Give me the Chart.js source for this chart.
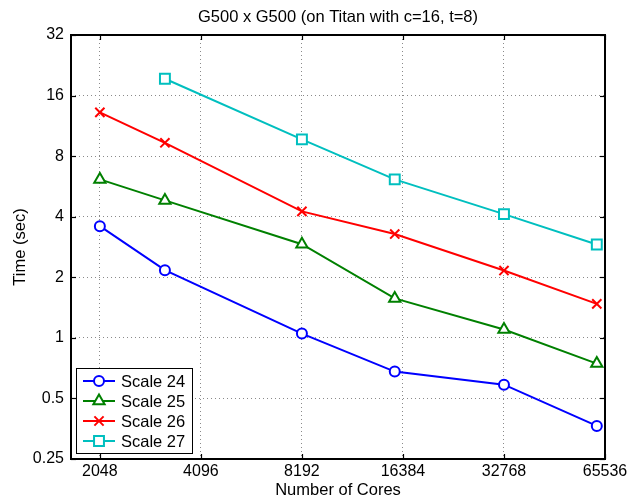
<!DOCTYPE html>
<html>
<head>
<meta charset="utf-8">
<script src="https://cdn.jsdelivr.net/npm/chart.js@4.4.1/dist/chart.umd.min.js"></script>
<style>
  html, body { margin: 0; padding: 0; background: #fff; }
  #wrap { width: 628px; height: 500px; position: relative; }
</style>
</head>
<body>
<div id="wrap"><canvas id="chart"></canvas></div>
<script>
// cores used in each run (x), times in seconds (y)
const cores  = [2048, 3200, 8192, 15488, 32768, 61952];
const xTicks = [2048, 4096, 8192, 16384, 32768, 65536];
const yTicks = [0.25, 0.5, 1, 2, 4, 8, 16, 32];

const scale24 = [3.59, 2.17, 1.05, 0.68, 0.585, 0.365];
const scale25 = [6.13, 4.82, 2.92, 1.57, 1.10, 0.745];
const scale26 = [13.2, 9.32, 4.25, 3.28, 2.16, 1.475];
const scale27 = [null, 19.4, 9.69, 6.13, 4.12, 2.91];

const names   = ['Scale 24', 'Scale 25', 'Scale 26', 'Scale 27'];
const colors  = ['#0000FF', '#008000', '#FF0000', '#00BFBF'];
const markers = ['circle', 'triangle', 'crossRot', 'rect'];
const radii   = [5, 6.5, 6.5, 7];

const FONT = "'Liberation Sans', Arial, Helvetica, sans-serif";
Chart.defaults.font.family = FONT;
Chart.defaults.color = '#000';

function pts(vals) {
    return cores.map((c, i) => ({ x: c, y: vals[i] })).filter(p => p.y !== null);
}

const series = [scale24, scale25, scale26, scale27];
const datasets = series.map((vals, i) => ({
    label: names[i],
    data: pts(vals),
    borderColor: colors[i],
    backgroundColor: '#ffffff',
    borderWidth: 2,
    pointStyle: markers[i],
    pointRadius: radii[i],
    pointBorderWidth: 2,
    pointBackgroundColor: '#ffffff',
    pointBorderColor: colors[i],
    tension: 0,
}));

// box, inward ticks and legend like the matlab figure
const matlabFrame = {
    id: 'matlabFrame',
    afterDraw(chart) {
        const { ctx, chartArea: a, scales: { x, y } } = chart;
        ctx.save();
        ctx.strokeStyle = '#000';
        ctx.lineWidth = 1.2;
        const seg = (x1, y1, x2, y2) => { ctx.beginPath(); ctx.moveTo(x1, y1); ctx.lineTo(x2, y2); ctx.stroke(); };
        xTicks.forEach(v => {
            const px = Math.round(x.getPixelForValue(v)) + 0.5;
            seg(px, a.bottom, px, a.bottom - 5);
            seg(px, a.top, px, a.top + 5);
        });
        yTicks.forEach(v => {
            const py = Math.round(y.getPixelForValue(v)) + 0.5;
            seg(a.left, py, a.left + 5, py);
            seg(a.right, py, a.right - 5, py);
        });
        ctx.lineWidth = 2;
        ctx.strokeRect(a.left, a.top, a.right - a.left, a.bottom - a.top);

        // legend
        const lx = 76, ly = 368, lw = 116, lh = 85;
        ctx.fillStyle = '#fff';
        ctx.fillRect(lx, ly, lw, lh);
        ctx.lineWidth = 1;
        ctx.strokeStyle = '#000';
        ctx.strokeRect(lx + 0.5, ly + 0.5, lw, lh);
        ctx.font = '16.5px ' + FONT;
        ctx.textBaseline = 'middle';
        ctx.textAlign = 'left';
        names.forEach((n, i) => {
            const ry = ly + 13 + i * 20;
            ctx.strokeStyle = colors[i];
            ctx.lineWidth = 2;
            seg(83, ry, 115, ry);
            ctx.fillStyle = '#fff';
            Chart.helpers.drawPoint(ctx, { pointStyle: markers[i], radius: radii[i], rotation: 0, borderWidth: 2 }, 99, ry);
            ctx.fillStyle = '#000';
            ctx.fillText(n, 121, ry + 1);
        });
        ctx.restore();
    }
};

new Chart(document.getElementById('chart'), {
    type: 'line',
    data: { datasets },
    plugins: [matlabFrame],
    options: {
        responsive: true,
        maintainAspectRatio: false,
        animation: false,
        layout: { padding: { left: 0, right: 23, top: 0, bottom: 0 } },
        plugins: {
            legend: { display: false },
            tooltip: { enabled: false },
            title: {
                display: true,
                fullSize: false,
                text: 'G500 x G500 (on Titan with c=16, t=8)',
                font: { size: 16.5, weight: 'normal' },
                color: '#000',
                padding: { top: 8, bottom: 7.2 },
            },
        },
        scales: {
            x: {
                type: 'logarithmic',
                min: 1680,
                max: 65536,
                afterBuildTicks: s => { s.ticks = xTicks.map(v => ({ value: v })); },
                afterFit: s => { s.height = 41; s.paddingLeft = 0; s.paddingRight = 0; },
                ticks: {
                    autoSkip: false,
                    maxRotation: 0,
                    padding: 3,
                    font: { size: 16 },
                    color: '#000',
                    callback: v => String(v),
                },
                grid: { color: '#8a8a8a', lineWidth: 1, drawTicks: false },
                border: { display: false, dash: [1, 3] },
                title: {
                    display: true,
                    text: 'Number of Cores',
                    font: { size: 16.5 },
                    color: '#000',
                    padding: { top: 0, bottom: 0 },
                },
            },
            y: {
                type: 'logarithmic',
                min: 0.25,
                max: 32,
                afterBuildTicks: s => { s.ticks = yTicks.map(v => ({ value: v })); },
                afterFit: s => { s.width = 71; s.paddingTop = 0; s.paddingBottom = 0; },
                ticks: {
                    autoSkip: false,
                    padding: 7,
                    font: { size: 16 },
                    color: '#000',
                    callback: v => String(v),
                },
                grid: { color: '#8a8a8a', lineWidth: 1, drawTicks: false },
                border: { display: false, dash: [1, 3] },
                title: {
                    display: true,
                    text: 'Time (sec)',
                    font: { size: 16.5 },
                    color: '#000',
                    padding: { top: 11, bottom: 0 },
                },
            },
        },
    },
});
</script>
</body>
</html>
